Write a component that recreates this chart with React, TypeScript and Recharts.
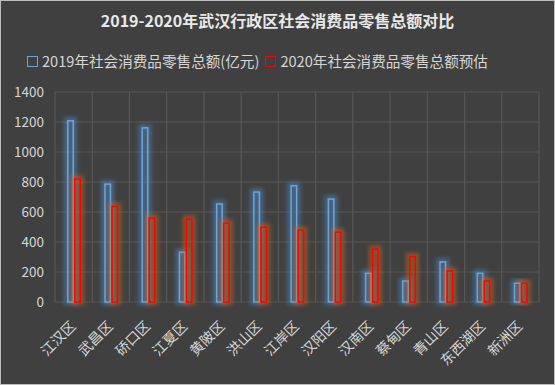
import { Bar, BarChart, CartesianGrid, XAxis, YAxis } from 'recharts'

const districts = ['江汉区', '武昌区', '硚口区', '江夏区', '黄陂区', '洪山区', '江岸区', '汉阳区', '汉南区', '蔡甸区', '青山区', '东西湖区', '新洲区']
const sales2019 = [1213, 791, 1166, 337, 658, 738, 780, 691, 196, 145, 272, 196, 130]
const forecast2020 = [825, 642, 564, 557, 531, 504, 484, 470, 357, 307, 212, 145, 130]
const yTicks = [0, 200, 400, 600, 800, 1000, 1200, 1400]
const seriesNames = ['2019年社会消费品零售总额(亿元)', '2020年社会消费品零售总额预估']
const title = '2019-2020年武汉行政区社会消费品零售总额对比'

const BG = '#404040'
const GRID = '#575757'
const TEXT = '#d6d6d6'
const BLUE = '#6aa5dc'
const BLUE_GLOW = '#4f8cc9'
const RED = '#ff0000'
const RED_GLOW = '#d2691e'
const FONT = '"Noto Sans CJK SC", "Noto Sans", sans-serif'

const rows = districts.map((name, i) => ({ name, y2019: sales2019[i], y2020: forecast2020[i] }))

// outlined bar with a soft coloured glow, like the Excel "glow" effect
function GlowBar(props: any) {
  const { x, y, width, height, lineColor, glowColor, glowId } = props
  if (!height || height <= 0) return null
  return (
    <g>
      <rect x={x} y={y} width={width} height={height} fill={glowColor} fillOpacity={0.25} stroke={glowColor} strokeWidth={6} filter={`url(#${glowId})`} opacity={0.5} />
      <rect x={x + 0.75} y={y + 0.75} width={width - 1.5} height={height - 0.75} fill="none" stroke={lineColor} strokeWidth={1.5} />
    </g>
  )
}

function SlantTick(props: any) {
  const { x, y, payload } = props
  return (
    <text
      transform={`translate(${x + 3},${y + 25}) rotate(-45)`}
      textAnchor="end"
      fill={TEXT}
      fontSize={14}
      fontFamily={FONT}
    >
      {payload.value}
    </text>
  )
}

export default function App() {
  const n = districts.length
  return (
    <div
      style={{
        position: 'absolute',
        left: 0,
        top: 0,
        width: 555,
        height: 385,
        boxSizing: 'border-box',
        background: BG,
        border: '1px solid #bdbdbd',
        fontFamily: FONT,
        overflow: 'hidden',
      }}
    >
      <div
        style={{
          position: 'absolute',
          top: 8,
          left: 0,
          width: 553,
          textAlign: 'center',
          color: '#e8e8e8',
          fontWeight: 'bold',
          fontSize: 16,
          lineHeight: '22px',
        }}
      >
        {title}
      </div>
      <div
        style={{
          position: 'absolute',
          top: 49,
          left: 26,
          display: 'flex',
          alignItems: 'center',
          color: TEXT,
          fontSize: 14.6,
          lineHeight: '22px',
          whiteSpace: 'nowrap',
        }}
      >
        <span style={{ width: 9, height: 9, border: `1.5px solid ${BLUE}`, marginRight: 4 }} />
        <span style={{ marginRight: 6 }}>{seriesNames[0]}</span>
        <span style={{ width: 9, height: 9, border: `1.5px solid ${RED}`, marginRight: 4 }} />
        <span>{seriesNames[1]}</span>
      </div>
      <div style={{ position: 'absolute', left: -1, top: -1 }}>
        <BarChart
          width={555}
          height={385}
          data={rows}
          margin={{ top: 92, right: 16, bottom: 53, left: 0 }}
          barGap={0}
          barSize={7}
        >
          <defs>
            <filter id="glowBlue" x="-100%" y="-20%" width="300%" height="140%">
              <feGaussianBlur stdDeviation="2.2" />
            </filter>
            <filter id="glowRed" x="-100%" y="-20%" width="300%" height="140%">
              <feGaussianBlur stdDeviation="2.2" />
            </filter>
          </defs>
          <CartesianGrid
            stroke={GRID}
            strokeWidth={1.2}
            verticalCoordinatesGenerator={({ offset }: any) =>
              Array.from({ length: n + 1 }, (_, i) => offset.left + (i * offset.width) / n)
            }
          />
          <XAxis
            dataKey="name"
            axisLine={false}
            tickLine={false}
            tickSize={0}
            tickMargin={0}
            interval={0}
            tick={<SlantTick />}
          />
          <YAxis
            domain={[0, 1400]}
            ticks={yTicks}
            width={55}
            axisLine={false}
            tickLine={false}
            tickSize={0}
            tickMargin={11}
            tick={{ fill: TEXT, fontSize: 13.5, fontFamily: FONT }}
          />
          <Bar
            dataKey="y2019"
            name={seriesNames[0]}
            stroke={BLUE}
            isAnimationActive={false}
            shape={(p: any) => <GlowBar {...p} lineColor={BLUE} glowColor={BLUE_GLOW} glowId="glowBlue" />}
          />
          <Bar
            dataKey="y2020"
            name={seriesNames[1]}
            stroke={RED}
            isAnimationActive={false}
            shape={(p: any) => <GlowBar {...p} lineColor={RED} glowColor={RED_GLOW} glowId="glowRed" />}
          />
        </BarChart>
      </div>
    </div>
  )
}
